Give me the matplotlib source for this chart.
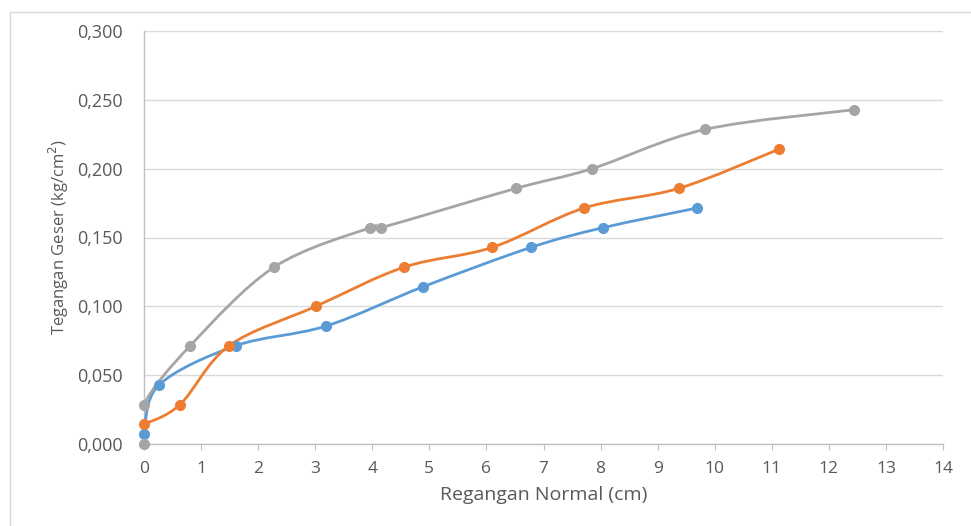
import matplotlib
matplotlib.use("Agg")
import matplotlib.pyplot as plt
from matplotlib.path import Path
from matplotlib.patches import PathPatch, Rectangle
from matplotlib.ticker import FuncFormatter

plt.rcParams['font.family'] = ['Open Sans', 'DejaVu Sans']

# Data
blue_x = [0.0, 0.26, 1.61, 3.19, 4.89, 6.78, 8.04, 9.69]
blue_y = [0.0071, 0.0428, 0.0714, 0.0857, 0.1142, 0.1428, 0.1571, 0.1714]

orange_x = [0.0, 0.63, 1.49, 3.01, 4.56, 6.10, 7.71, 9.37, 11.13]
orange_y = [0.0143, 0.0286, 0.0714, 0.1000, 0.1285, 0.1428, 0.1714, 0.1857, 0.2142]

gray_x = [0.0, 0.0, 0.81, 2.28, 3.96, 4.15, 6.52, 7.85, 9.83, 12.44]
gray_y = [0.0, 0.0286, 0.0714, 0.1285, 0.1571, 0.1571, 0.1857, 0.2000, 0.2285, 0.2428]

x_ticks = list(range(0, 15))
y_ticks = [0.0, 0.05, 0.10, 0.15, 0.20, 0.25, 0.30]
x_label = "Regangan Normal (cm)"
y_label = "Tegangan Geser (kg/cm$^2$)"

COLORS = {"blue": "#5B9BD5", "orange": "#ED7D31", "gray": "#A5A5A5"}


def smooth_path(xs, ys):
    pts = list(zip(xs, ys))
    n = len(pts)
    verts = [pts[0]]
    codes = [Path.MOVETO]
    for i in range(n - 1):
        p0 = pts[i - 1] if i > 0 else pts[i]
        p1 = pts[i]
        p2 = pts[i + 1]
        p3 = pts[i + 2] if i + 2 < n else pts[i + 1]
        c1 = (p1[0] + (p2[0] - p0[0]) / 6.0, p1[1] + (p2[1] - p0[1]) / 6.0)
        c2 = (p2[0] - (p3[0] - p1[0]) / 6.0, p2[1] - (p3[1] - p1[1]) / 6.0)
        verts += [c1, c2, p2]
        codes += [Path.CURVE4] * 3
    return Path(verts, codes)


fig = plt.figure(figsize=(9.71, 5.26), dpi=100)
ax = fig.add_axes([144 / 971, 82 / 526, (943 - 144) / 971, (444 - 31) / 526])

# outer chart border
fig.patches.append(Rectangle((10 / 971, -0.05), 1.2, (526 - 11.5) / 526 + 0.05,
                             transform=fig.transFigure, fill=False,
                             edgecolor="#D9D9D9", linewidth=1.0))

for xs, ys, key in [(blue_x, blue_y, "blue"), (orange_x, orange_y, "orange"),
                    (gray_x, gray_y, "gray")]:
    ax.add_patch(PathPatch(smooth_path(xs, ys), facecolor="none",
                           edgecolor=COLORS[key], linewidth=2.0, zorder=3,
                           capstyle="round"))
    ax.plot(xs, ys, linestyle="none", marker="o", markersize=7,
            color=COLORS[key], zorder=4, clip_on=False)

ax.set_xlim(0, 14)
ax.set_ylim(0, 0.30)
ax.set_xticks(x_ticks)
ax.set_yticks(y_ticks)
ax.yaxis.set_major_formatter(FuncFormatter(lambda v, p: f"{v:.3f}".replace(".", ",")))
ax.grid(axis="y", color="#D9D9D9", linewidth=1.0, zorder=0)
ax.set_axisbelow(True)

for s in ["top", "right"]:
    ax.spines[s].set_visible(False)
ax.spines["left"].set_color("#BFBFBF")
ax.spines["bottom"].set_color("#BFBFBF")
ax.spines["left"].set_linewidth(1.0)
ax.spines["bottom"].set_linewidth(1.0)
ax.tick_params(axis="x", direction="out", length=4, color="#BFBFBF",
               labelcolor="#595959", labelsize=12.5, pad=8)
ax.tick_params(axis="y", length=0, labelcolor="#595959", labelsize=13, pad=15)

ax.set_xlabel(x_label, fontsize=14, color="#595959", labelpad=7)
ax.set_ylabel(y_label, fontsize=12, color="#595959", labelpad=5)

fig.savefig("out.png", dpi=100, facecolor="white")
